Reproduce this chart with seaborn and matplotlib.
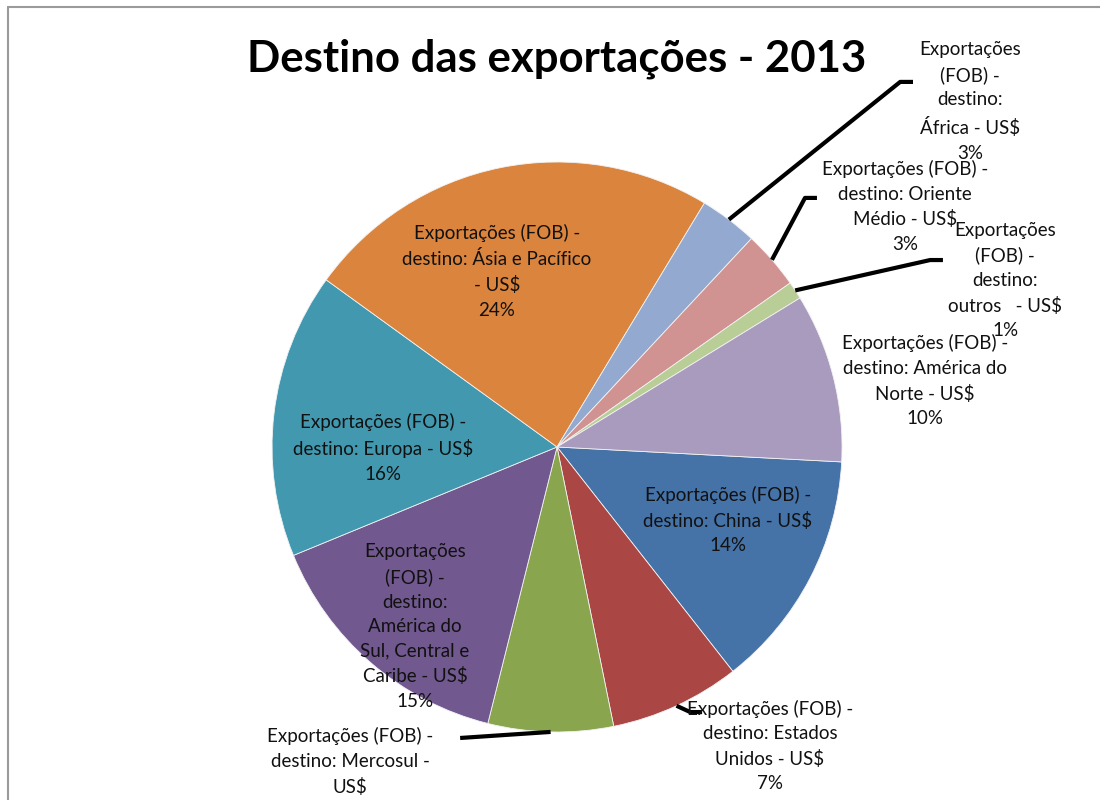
import matplotlib
matplotlib.use("Agg")
import matplotlib.pyplot as plt
from matplotlib.lines import Line2D
import numpy as np
import seaborn as sns

# Export share by destination (%), 2013
destinos = ["China", "Estados Unidos", "Mercosul", "América do Sul, Central e Caribe",
            "Europa", "Ásia e Pacífico", "África", "Oriente Médio", "outros", "América do Norte"]
participacao = [13.6, 7.4, 7.1, 14.9, 16.2, 23.7, 3.3, 3.3, 1.0, 9.6]

# Wrapped label text for each destination (percentage line appended below)
rotulos = [
    ["Exportações (FOB) -", "destino: China - US$"],
    ["Exportações (FOB) -", "destino: Estados", "Unidos - US$"],
    ["Exportações (FOB) -", "destino: Mercosul -", "US$"],
    ["Exportações", "(FOB) -", "destino:", "América do", "Sul, Central e", "Caribe - US$"],
    ["Exportações (FOB) -", "destino: Europa - US$"],
    ["Exportações (FOB) -", "destino: Ásia e Pacífico", "- US$"],
    ["Exportações", "(FOB) -", "destino:", "África - US$"],
    ["Exportações (FOB) -", "destino: Oriente", "Médio - US$"],
    ["Exportações", "(FOB) -", "destino:", "outros   - US$"],
    ["Exportações (FOB) -", "destino: América do", "Norte - US$"],
]

cores = ["#4572A7", "#AA4643", "#89A54E", "#71588F", "#4198AF",
         "#DB843D", "#93A9CF", "#D19392", "#B9CD96", "#A99BBD"]

# Label centres (pie units, radius = 1)
pos_rotulos = [(0.600, -0.256), (0.747, -1.049), (-0.726, -1.146), (-0.498, -0.630),
               (-0.611, -0.002), (-0.211, 0.616), (1.449, 1.212), (1.221, 0.844),
               (1.572, 0.584), (1.291, 0.233)]

# Leader lines: destination index -> polyline after the wedge edge point
guias = {
    1: [(0.467, -0.930), (0.509, -0.930)],
    2: [(-0.340, -1.021)],
    6: [(1.204, 1.281), (1.249, 1.281)],
    7: [(0.870, 0.874), (0.912, 0.874)],
    8: [(1.309, 0.656), (1.354, 0.656)],
}

sns.set_style("white")
plt.rcParams["font.family"] = ["Lato", "DejaVu Sans"]

fig = plt.figure(figsize=(11, 8), dpi=100)
ax = fig.add_axes([0.2473, 0.085, 0.5182, 0.7125])

wedges, _ = ax.pie(participacao, colors=cores, startangle=-3, counterclock=False,
                   radius=1, wedgeprops=dict(linewidth=0.6, edgecolor="#f2f2f2"))
ax.set_xlim(-1, 1)
ax.set_ylim(-1, 1)
ax.set_aspect("equal")
ax.axis("off")

total = sum(participacao)
for i, (w, linhas) in enumerate(zip(wedges, rotulos)):
    pct = f"{round(participacao[i] / total * 100)}%"
    texto = "\n".join(linhas + [pct])
    x, y = pos_rotulos[i]
    if i in guias:
        ang = np.deg2rad((w.theta1 + w.theta2) / 2)
        pts = [(np.cos(ang), np.sin(ang))] + guias[i]
        xs, ys = zip(*pts)
        ax.plot(xs, ys, color="black", lw=3, clip_on=False, solid_capstyle="butt")
    ax.text(x, y, texto, ha="center", va="center", multialignment="center",
            fontsize=13.5, linespacing=1.53, color="#111111", clip_on=False)

fig.text(557 / 1100, 1 - 59 / 800, "Destino das exportações - 2013",
         ha="center", va="center", fontsize=31.5, fontweight="bold", color="black")

# Chart area border (left and top edges)
fig.add_artist(Line2D([7.5 / 1100, 7.5 / 1100], [0, 1 - 7 / 800],
                      transform=fig.transFigure, color="#9a9a9a", lw=1.5))
fig.add_artist(Line2D([7.5 / 1100, 1.0], [1 - 7 / 800, 1 - 7 / 800],
                      transform=fig.transFigure, color="#9a9a9a", lw=1.5))

fig.savefig("out.png", dpi=100)
